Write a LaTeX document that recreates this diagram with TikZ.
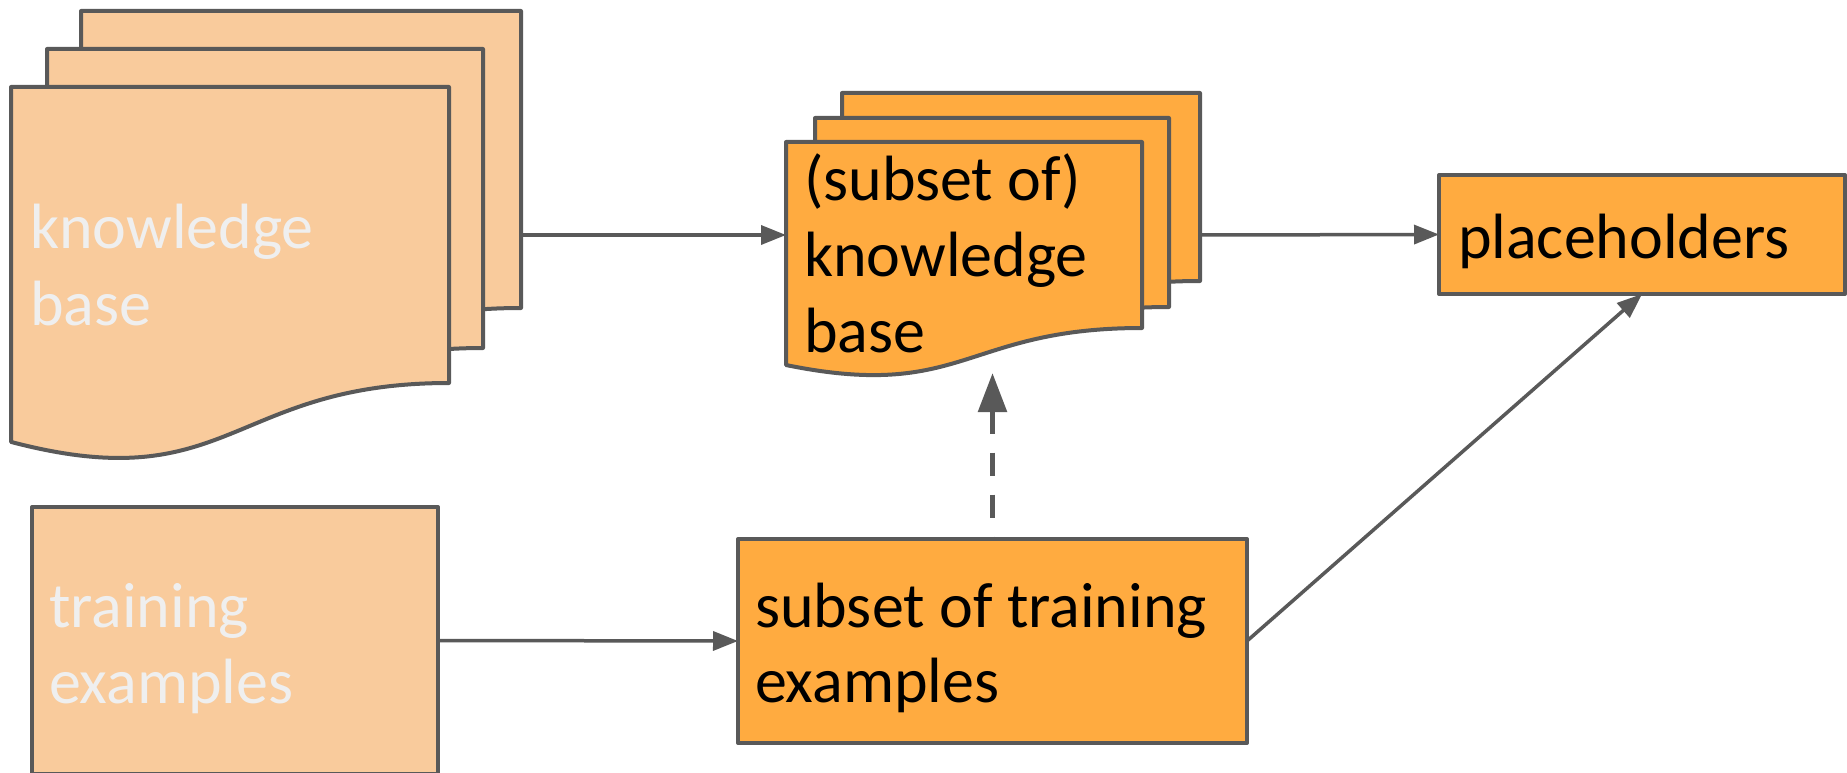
\documentclass[tikz,border=0pt]{standalone}
\usepackage{fontspec}
\setmainfont{Carlito}
\usetikzlibrary{arrows.meta,calc}

\definecolor{lightor}{HTML}{F9CB9C}
\definecolor{darkor}{HTML}{FFAB40}
\definecolor{edgegray}{HTML}{595959}
\definecolor{lighttext}{HTML}{EFEFEF}

\tikzset{
  page/.style={draw=edgegray, line width=4pt, line join=round},
  box/.style={draw=edgegray, line width=4pt, line join=round, inner sep=0pt,
    outer sep=0pt, anchor=north west},
  txt/.style={anchor=base west, inner sep=0pt, outer sep=0pt,
    font=\fontsize{64}{76.5}\selectfont},
  conn/.style={draw=edgegray, line width=3.5pt, -{Triangle[length=25pt,width=19pt]}},
  dashconn/.style={draw=edgegray, line width=5.5pt, dash pattern=on 23pt off 19pt,
    {Triangle[length=39pt,width=28pt]}-},
}

% one page of a document stack: name, left, top, right, bottom of right edge, fill
\newcommand\docpage[6]{%
  \node[inner sep=0pt, outer sep=0pt, minimum width={(#4-#2)*1pt},
    minimum height={(#5-#3)*1pt}, anchor=north west] (#1) at (#2,#3) {};
  \draw[page, fill=#6] (#1.north west) -- (#1.north east) -- (#1.south east)
    .. controls (#1.south) and ($(#1.south)+(0,{0.394*(#5-#3)})$)
    .. ($(#1.south west)+(0,{0.199*(#5-#3)})$) -- cycle;
}

\begin{document}
\begin{tikzpicture}[x=1pt, y=-1pt]
  \clip (0,0) rectangle (1847,773);
  \fill[white] (0,0) rectangle (1847,773);

  % knowledge base (stack of three pages)
  \docpage{kbback}{81}{11}{521}{308}{lightor}
  \docpage{kbmid}{47}{49}{483}{348}{lightor}
  \docpage{kbfront}{11}{87}{449}{383}{lightor}
  \node[txt, text=lighttext] (kbtxt1) at (30,248) {knowledge};
  \node[txt, text=lighttext] (kbtxt2) at (30,325) {base};

  % subset of the knowledge base
  \docpage{skbback}{842}{93}{1200}{281}{darkor}
  \docpage{skbmid}{815}{118}{1169}{307}{darkor}
  \docpage{skbfront}{786}{142}{1142}{328}{darkor}
  \node[txt] (skbtxt1) at (804,200) {(subset of)};
  \node[txt] (skbtxt2) at (804,276) {knowledge};
  \node[txt] (skbtxt3) at (804,352) {base};

  % placeholders
  \node[box, fill=darkor, minimum width=406pt, minimum height=119pt] (ph) at (1439,175) {};
  \node[txt] (phtxt) at (1458,258) {placeholders};

  % training examples
  \node[box, fill=lightor, minimum width=406pt, minimum height=267pt] (tr) at (32,507) {};
  \node[txt, text=lighttext] (trtxt1) at (49,627) {training};
  \node[txt, text=lighttext] (trtxt2) at (49,703) {examples};

  % subset of training examples
  \node[box, fill=darkor, minimum width=509pt, minimum height=204pt] (st) at (738,539) {};
  \node[txt] (sttxt1) at (755,627) {subset of training};
  \node[txt] (sttxt2) at (755,702) {examples};

  % connectors
  \coordinate (dtip) at (992.5,373);
  \draw[conn] (kbfront.center -| kbback.east) -- (skbfront.west);
  \draw[conn] (skbfront.center -| skbback.east) -- (ph.west);
  \draw[conn] (tr.east) -- (st.west);
  \draw[conn] (st.east) -- (ph.south);
  \draw[dashconn] (dtip) -- (st.north);
\end{tikzpicture}
\end{document}
